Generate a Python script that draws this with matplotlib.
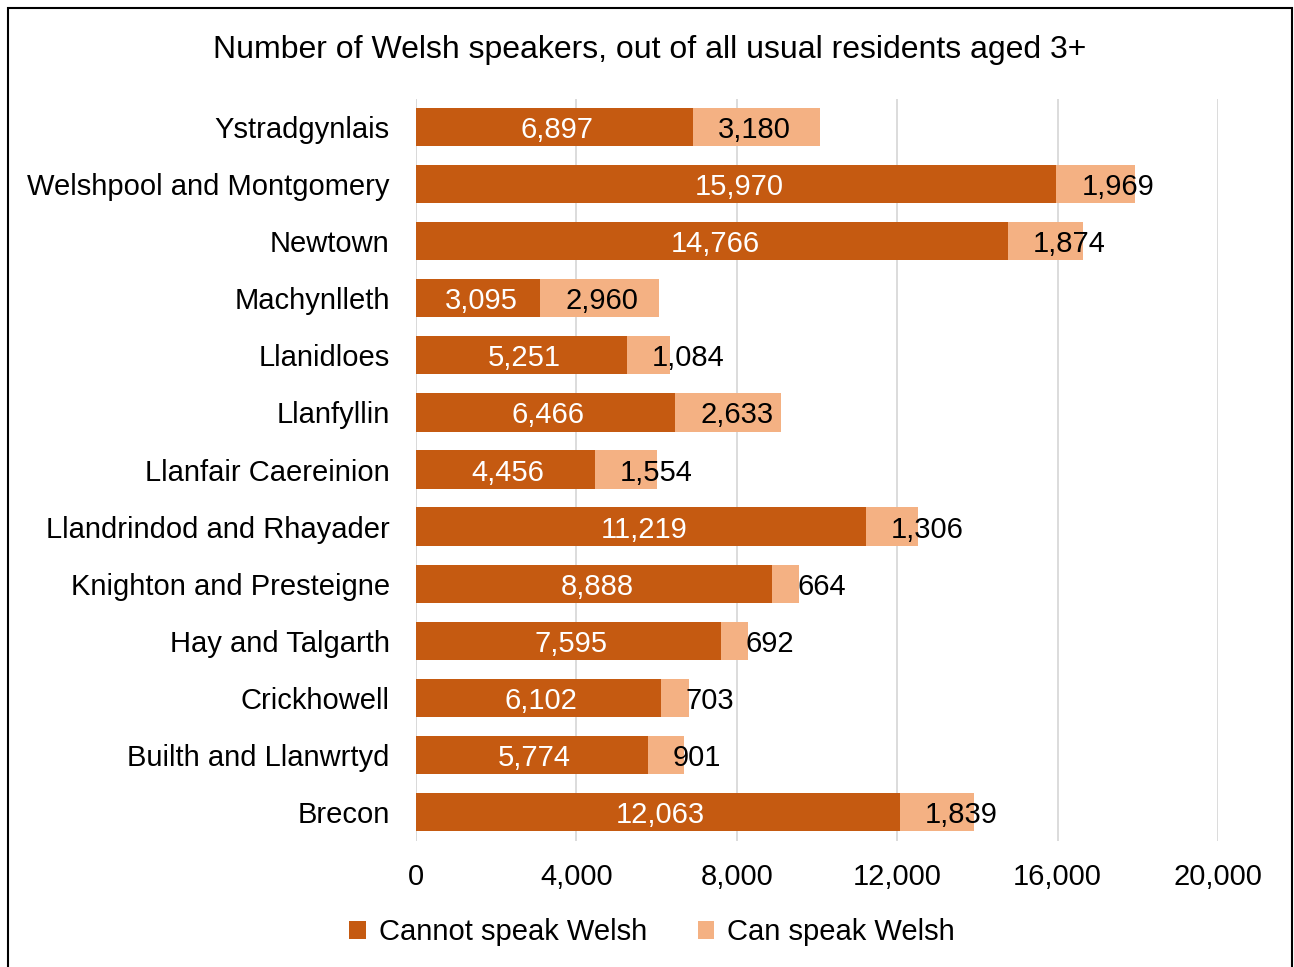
import matplotlib
matplotlib.use('Agg')
import matplotlib.pyplot as plt
from matplotlib.patches import Rectangle

plt.rcParams['font.family'] = ['Liberation Sans', 'DejaVu Sans']

areas = ['Ystradgynlais', 'Welshpool and Montgomery', 'Newtown', 'Machynlleth',
         'Llanidloes', 'Llanfyllin', 'Llanfair Caereinion', 'Llandrindod and Rhayader',
         'Knighton and Presteigne', 'Hay and Talgarth', 'Crickhowell',
         'Builth and Llanwrtyd', 'Brecon']
cannot = [6897, 15970, 14766, 3095, 5251, 6466, 4456, 11219, 8888, 7595, 6102, 5774, 12063]
can = [3180, 1969, 1874, 2960, 1084, 2633, 1554, 1306, 664, 692, 703, 901, 1839]
xticks = [0, 4000, 8000, 12000, 16000, 20000]

dark = '#C55A11'
light = '#F4B183'
fs = 21

fig = plt.figure(figsize=(12.94, 9.67), dpi=100)
ax = fig.add_axes([0.3215, 0.1308, 0.6198, 0.7673])

# top category first
ys = list(range(len(areas)))[::-1]
ax.barh(ys, cannot, height=0.67, color=dark, label='Cannot speak Welsh', zorder=2)
ax.barh(ys, can, left=cannot, height=0.67, color=light, label='Can speak Welsh', zorder=2)

for y, a, b in zip(ys, cannot, can):
    ax.annotate(f'{a:,}', (a / 2, y), xytext=(2, 0), textcoords='offset points',
                ha='center', va='center_baseline', color='white', fontsize=fs, zorder=3)
    # light labels sit a fixed distance in from the start of their segment
    ax.annotate(f'{b:,}', (a, y), xytext=(18, 0), textcoords='offset points',
                ha='left', va='center_baseline', color='black', fontsize=fs, zorder=3)

ax.set_xlim(0, 20000)
ax.set_ylim(-0.5, len(areas) - 0.5)
ax.set_xticks(xticks)
ax.set_xticklabels([f'{t:,}' for t in xticks])
ax.set_yticks(ys)
ax.set_yticklabels(areas)
ax.tick_params(axis='both', length=0, labelsize=fs)
ax.tick_params(axis='y', pad=19)
ax.tick_params(axis='x', pad=16)
ax.grid(axis='x', color='#D9D9D9', linewidth=1.3, zorder=0)
ax.set_axisbelow(True)
for s in ax.spines.values():
    s.set_visible(False)
ax.axvline(0, color='#D9D9D9', linewidth=1.3, zorder=1)

fig.text(0.502, 0.948, 'Number of Welsh speakers, out of all usual residents aged 3+',
         ha='center', va='center', fontsize=23)

fig.legend(loc='center', bbox_to_anchor=(0.504, 0.036), ncol=2, frameon=False,
           fontsize=fs, handlelength=0.55, handleheight=0.55, handletextpad=0.45,
           columnspacing=1.75)

fig.patches.append(Rectangle((8 / 1294, -0.01), 1284 / 1294, 1 - 8 / 967 + 0.01,
                             transform=fig.transFigure, fill=False,
                             edgecolor='black', linewidth=1.5))

fig.savefig('out.png', dpi=100)
